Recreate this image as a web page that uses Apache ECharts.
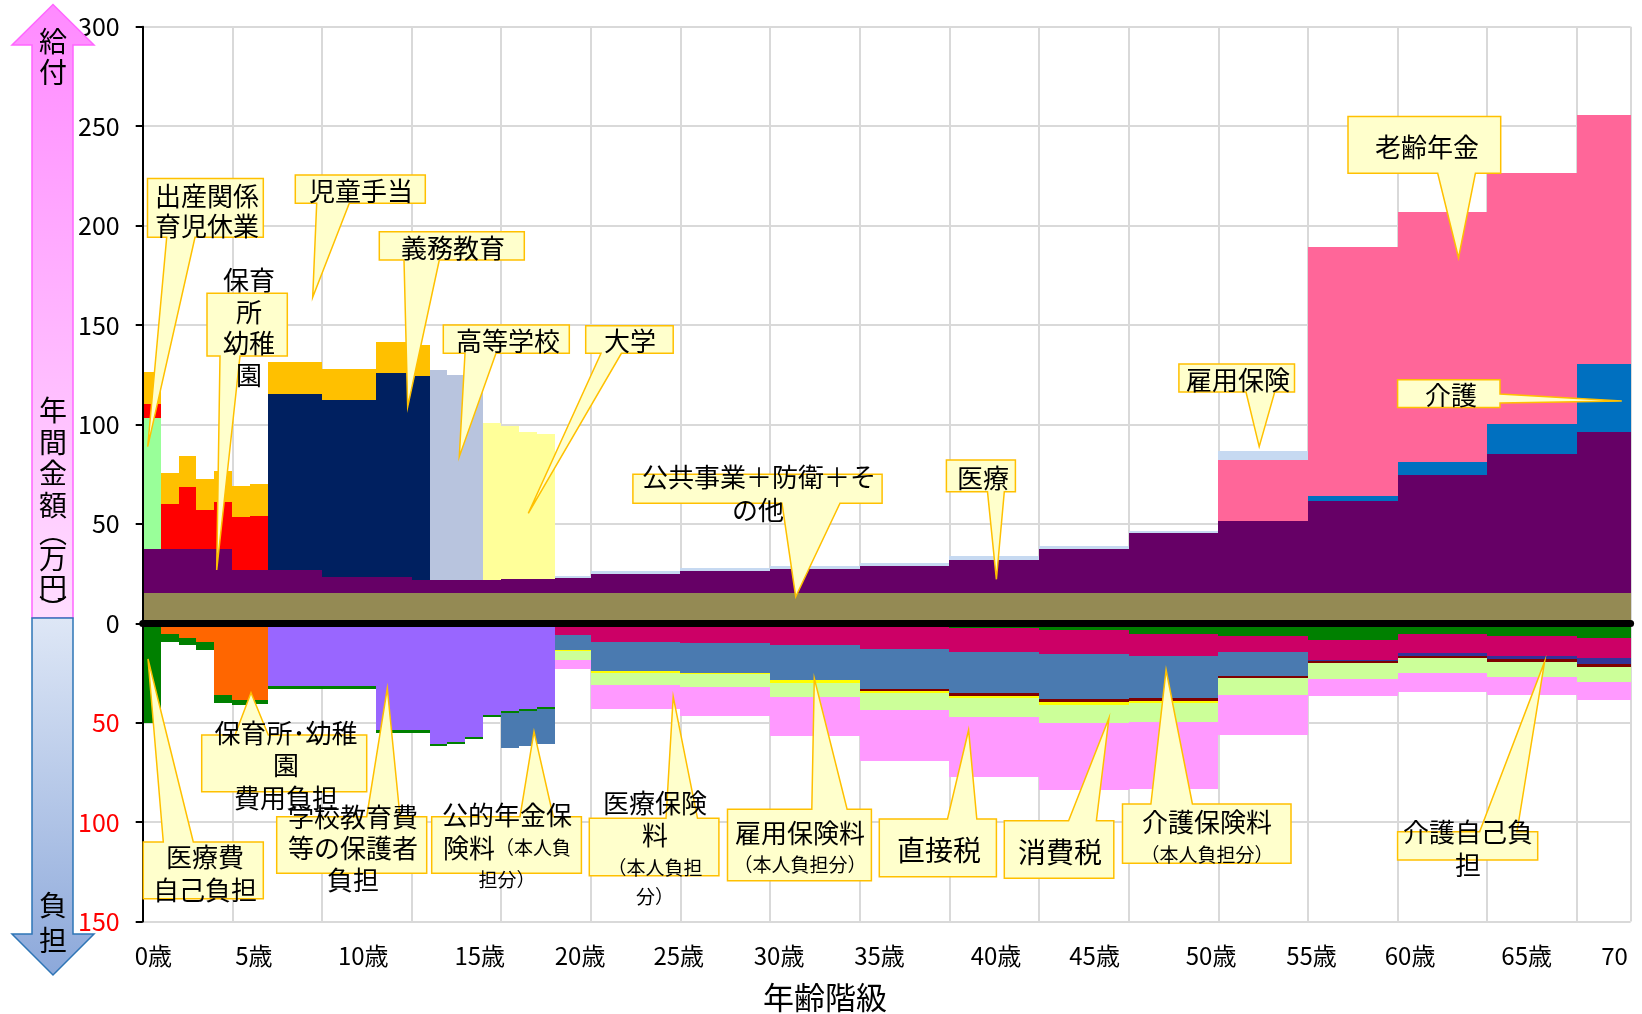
<!DOCTYPE html>
<html><head><meta charset="utf-8">
<script src="https://cdn.jsdelivr.net/npm/echarts@6/dist/echarts.min.js"></script>
<style>html,body{margin:0;padding:0;background:#fff}#c{width:1642px;height:1014px}</style>
</head><body><div id="c"></div>
<script>
const FONT = '"Noto Sans CJK JP", "Noto Sans", sans-serif';

// x-axis: one unit per step; child ages are single steps, adults are 5-step bands
const segEdges = [0,1,2,3,4,5,6,7,8,9,10,11,12,13,14,15,16,17,18,19,20,21,22,23,25,30,35,40,45,50,55,60,65,70,75,80,83];

// tick labels of the x-axis and where they sit (in axis units)
const ageTickLabels = ['0歳','5歳','10歳','15歳','20歳','25歳','30歳','35歳','40歳','45歳','50歳','55歳','60歳','65歳','70'];
const ageTickPos = [0.6, 6.2, 12.3, 18.8, 24.4, 29.9, 35.5, 41.1, 47.6, 53.1, 59.6, 65.2, 70.7, 77.2, 82.1];

// ---- benefits (positive, 万円) ----
const publicWorks = [15.4,15.4,15.4,15.4,15.4,15.4,15.4,15.4,15.4,15.4, 15.4,15.4,15.4,15.4,15.4,15.4,15.4,15.4,15.4,15.4, 15.4,15.4,15.4,15.4,15.4,15.4,15.4,15.4,15.4,15.4, 15.4,15.4,15.4,15.4,15.4,15.4];
const medical = [22.2,22.2,22.2,22.2,22.2, 11.3,11.3,11.3,11.3,11.3, 7.9,7.9,7.9,7.9,7.9, 6.6, 6.4,6.4,6.4,6.4, 7.1,7.1,7.1, 7.6,9.4,10.9,11.9,13.6,16.6,21.9,29.8,36.0,45.9,59.0,69.7,81.0];
const birth = [65.7, 0,0,0,0,0,0,0,0,0,0, 0,0,0,0,0,0,0,0,0,0, 0,0,0,0,0,0,0,0,0,0, 0,0,0,0,0];
const nursery = [7.2,22.3,31.0,19.2,23.4,26.8,27.3, 0,0,0,0,0,0,0,0,0,0, 0,0,0,0,0,0,0,0,0,0, 0,0,0,0,0,0,0,0,0];
const compulsory = [0,0,0,0,0,0,0, 88.8,88.8,88.8, 89.2,89.2,89.2, 102.6,102.6, 102.2, 0,0,0,0,0,0,0,0,0,0, 0,0,0,0,0,0,0,0,0,0];
const highSchool = [0,0,0,0,0,0,0,0,0,0, 0,0,0,0,0,0, 105.5,102.9,102.9, 0,0,0,0,0,0,0,0,0,0, 0,0,0,0,0,0,0];
const university = [0,0,0,0,0,0,0,0,0,0, 0,0,0,0,0,0,0,0,0, 79.1,76.6,73.9,72.6, 0,0,0,0,0,0,0,0,0,0, 0,0,0];
const care = [0,0,0,0,0,0,0,0,0,0, 0,0,0,0,0,0,0,0,0,0, 0,0,0,0,0,0,0,0,0,0, 0,0, 2.7,6.8,15.3,33.9];
const pension = [0,0,0,0,0,0,0,0,0,0, 0,0,0,0,0,0,0,0,0,0, 0,0,0,0,0,0,0,0,0,0, 0, 30.8,125.4,125.4,125.8,125.4];
const employment = [0,0,0,0,0,0,0,0,0,0, 0,0,0,0,0,0,0,0,0,0, 0,0,0, 1.0,1.5,1.6,1.4,1.5,1.6,1.5,1.1,4.4, 0,0,0,0];
const childAllowance = [15.9,15.7,15.7,15.6,15.8,15.6,15.9,15.8,15.8,15.8,15.6,15.6,15.6,15.4,15.4,15.6, 0,0,0,0,0,0,0,0,0,0, 0,0,0,0,0,0,0,0,0,0];

// ---- burdens (shown below zero, 万円) ----
const nurseryFee = [0,5.2,7.4,9.4,36.2,38.7,38.4, 0,0,0,0,0,0,0,0,0,0, 0,0,0,0,0,0,0,0,0,0, 0,0,0,0,0,0,0,0,0];
const schoolFee = [0,0,0,0,0,0,0, 31.7,31.7,31.7,31.7,31.7,31.7, 53.8,53.8,53.8, 60.9,59.5,57.2,45.9,44.3,42.9,42.1, 0,0,0,0,0,0,0,0,0,0, 0,0,0];
const medicalSelf = [50.1,4.2,3.7,3.8,3.7,2.2,2.3, 1.2,1.2,1.2,1.2,1.2,1.2,1.2,1.2,1.2, 1.0,1.0,1.0,1.0,1.0,1.0,1.0, 0.5,0.5,0.5,0.8,2.0,2.5,3.5,5.4,6.4,8.4,5.4,6.4,7.2];
const healthPrem = [0,0,0,0,0,0,0,0,0,0, 0,0,0,0,0,0,0,0,0,0, 0,0,0, 5.5,9.1,9.6,10.1,11.1,11.8,11.9,10.9,8.2,10.1,9.7,10.0,10.4];
const pensionPrem = [0,0,0,0,0,0,0,0,0,0, 0,0,0,0,0,0,0,0,0,0, 17.4,17.8,17.4, 7.5,14.4,14.7,17.6,20.0,20.9,22.9,21.5,11.9,0,0,0,0];
const careSelf = [0,0,0,0,0,0,0,0,0,0, 0,0,0,0,0,0,0,0,0,0, 0,0,0,0,0,0,0,0,0,0, 0,0, 0.4,1.2,1.7,2.9];
const carePrem = [0,0,0,0,0,0,0,0,0,0, 0,0,0,0,0,0,0,0,0,0, 0,0,0,0,0,0,0, 1.0,1.4,1.3,1.1,0.8,1.2,1.3,1.2,1.3];
const employPrem = [0,0,0,0,0,0,0,0,0,0, 0,0,0,0,0,0,0,0,0,0, 0,0,0, 0.3,0.8,0.7,1.4,1.1,1.2,1.5,1.0,0.4,0,0,0,0];
const consumption = [0,0,0,0,0,0,0,0,0,0, 0,0,0,0,0,0,0,0,0,0, 0,0,0, 4.7,6.2,6.4,7.0,8.4,9.2,9.2,9.6,8.4,7.9,7.6,7.5,7.6];
const directTax = [0,0,0,0,0,0,0,0,0,0, 0,0,0,0,0,0,0,0,0,0, 0,0,0, 4.7,12.1,14.7,19.8,25.7,30.2,33.6,33.9,20.1,8.7,9.2,9.3,9.2];

const posLayers = [
  {name:'公共事業＋防衛＋その他', values:publicWorks, color:'#948A54'},
  {name:'医療', values:medical, color:'#660066'},
  {name:'出産関係・育児休業', values:birth, color:'#99FF99'},
  {name:'保育所・幼稚園', values:nursery, color:'#FF0000'},
  {name:'義務教育', values:compulsory, color:'#002060'},
  {name:'高等学校', values:highSchool, color:'#B8C4DE'},
  {name:'大学', values:university, color:'#FFFF99'},
  {name:'介護', values:care, color:'#0070C0'},
  {name:'老齢年金', values:pension, color:'#FF6699'},
  {name:'雇用保険', values:employment, color:'#C6D9F1'},
  {name:'児童手当', values:childAllowance, color:'#FFC000'}
];
const negLayers = [
  {name:'保育所・幼稚園費用負担', values:nurseryFee, color:'#FF6600'},
  {name:'学校教育費等の保護者負担', values:schoolFee, color:'#9966FF'},
  {name:'医療費自己負担', values:medicalSelf, color:'#008000'},
  {name:'医療保険料（本人負担分）', values:healthPrem, color:'#CC0066'},
  {name:'公的年金保険料（本人負担分）', values:pensionPrem, color:'#4A7AB0'},
  {name:'介護自己負担', values:careSelf, color:'#333399'},
  {name:'介護保険料（本人負担分）', values:carePrem, color:'#800000'},
  {name:'雇用保険料（本人負担分）', values:employPrem, color:'#FFFF00'},
  {name:'消費税', values:consumption, color:'#CCFF99'},
  {name:'直接税', values:directTax, color:'#FF99FF'}
];

function renderItem(params, api) {
  const x0 = api.value(0), x1 = api.value(1), lo = api.value(2), hi = api.value(3);
  if (!(hi - lo > 0)) return null;
  const a = api.coord([x0, hi]), b = api.coord([x1, lo]);
  const X0 = Math.round(a[0]), X1 = Math.round(b[0]);
  const Y0 = Math.round(a[1]);
  let Y1 = Math.round(b[1]);
  if (Y1 <= Y0) Y1 = Y0 + 1;
  return {type:'rect', shape:{x:X0, y:Y0, width:X1 - X0, height:Y1 - Y0}, style:{fill:api.visual('color')}};
}

function buildLayers(layers, sign) {
  const cum = segEdges.slice(1).map(() => 0);
  return layers.map(L => {
    const data = L.values.map((v, i) => {
      const lo = cum[i];
      cum[i] += v;
      return sign > 0 ? [segEdges[i], segEdges[i + 1], lo, cum[i]]
                      : [segEdges[i], segEdges[i + 1], -cum[i], -lo];
    });
    return {type:'custom', name:L.name, renderItem, encode:{x:[0,1], y:[2,3]}, data,
            itemStyle:{color:L.color}, xAxisIndex:0, yAxisIndex:0, z:2, silent:true};
  });
}

// ---- annotations (callouts) ----
const BOXFILL = '#FFFFCC', BOXLINE = '#FFC000';
function calloutPoly(c) {
  const [x0, y0, x1, y1] = c.box, a = c.a, b = c.b, t = c.tip;
  let pts;
  if (c.edge === 'bottom') pts = [[x0,y0],[x1,y0],[x1,y1],[b,y1],t,[a,y1],[x0,y1]];
  else if (c.edge === 'top') pts = [[x0,y0],[a,y0],t,[b,y0],[x1,y0],[x1,y1],[x0,y1]];
  else pts = [[x0,y0],[x1,y0],[x1,a],t,[x1,b],[x1,y1],[x0,y1]];
  return {type:'polygon', shape:{points:pts}, style:{fill:BOXFILL, stroke:BOXLINE, lineWidth:1.5}, z:100, silent:true};
}
function txt(text, x, y, size, extra) {
  return Object.assign({type:'text', x, y, z:110, silent:true,
    style:{text, fontSize:size, fontFamily:FONT, fill:'#000', align:'center', verticalAlign:'middle'}}, extra || {});
}
function richTxt(text, x, y, rich) {
  return {type:'text', x, y, z:110, silent:true,
    style:{text, rich, fill:'#000', align:'center', verticalAlign:'middle', fontFamily:FONT}};
}
const R = {a:{fontSize:26, fontFamily:FONT, fill:'#000'}, b:{fontSize:19, fontFamily:FONT, fill:'#000'}};

const callouts = [
  {box:[147.5,178.5,263.3,237.3], edge:'bottom', a:166.7, b:195, tip:[147.7,446.7],
   lines:[['出産関係',207,196,26],['育児休業',207,226,26]]},
  {box:[207,293.3,287.3,356], edge:'bottom', a:220, b:240, tip:[216.7,570],
   lines:[['保育',249,280,26],['所',249,312,26],['幼稚',249,343.5,26],['園',249,375,26]]},
  {box:[295.3,175,425.3,203.3], edge:'bottom', a:316.7, b:349.3, tip:[312.7,297.3],
   lines:[['児童手当',361,191,26]]},
  {box:[379.3,231.7,524.3,260], edge:'bottom', a:404, b:439.3, tip:[407.7,406.7],
   lines:[['義務教育',453,248,26]]},
  {box:[443.3,325,569.3,353.3], edge:'bottom', a:465, b:496, tip:[459.3,456.7],
   lines:[['高等学校',508,341,26]]},
  {box:[585.7,325.7,673.2,353.3], edge:'bottom', a:601, b:621.4, tip:[528.3,513.3],
   lines:[['大学',630,341,26]]},
  {box:[632.9,474.3,882.1,503.3], edge:'bottom', a:782, b:840, tip:[795.7,596.7],
   lines:[['公共事業＋防衛＋そ',759,477,26],['の他',758,510,26]]},
  {box:[946.4,460,1015.4,491.7], edge:'bottom', a:987.5, b:1004.3, tip:[996.4,579.3],
   lines:[['医療',983,478,26]]},
  {box:[1178.9,364,1294.5,392], edge:'bottom', a:1246, b:1274.7, tip:[1259.2,446.6],
   lines:[['雇用保険',1238,380,26]]},
  {box:[1348,116.5,1500.7,173.3], edge:'bottom', a:1437.7, b:1475.4, tip:[1458.5,257.8],
   lines:[['老齢年金',1427,147,26]]},
  {box:[1397.6,379.7,1500,407.5], edge:'right', a:394, b:403, tip:[1621.8,400.9],
   lines:[['介護',1451,395,26]]},
  {box:[143.3,842,263.3,898.8], edge:'top', a:163.3, b:193.3, tip:[148,659],
   lines:[['医療費',205,857,26],['自己負担',205,890,26]]},
  {box:[201.7,735,366.7,791.7], edge:'top', a:235, b:268.3, tip:[251,692.7],
   lines:[['保育所･幼稚',286,733,26],['園',286,765.5,26],['費用負担',286,798,26]]},
  {box:[276.7,816.7,426.7,873.3], edge:'top', a:366.7, b:400, tip:[387.3,688.3],
   lines:[['学校教育費',353,817,26],['等の保護者',353,848.5,26],['負担',353,880,26]]},
  {box:[431.7,816.7,581.4,873.3], edge:'top', a:520, b:553.3, tip:[534,731.7],
   lines:[['公的年金保',507,815,26]], rich:[['{a|険料}{b|（本人負}',507,848],['{b|担分）}',507,880]]},
  {box:[589.3,818.3,718.9,875.7], edge:'top', a:666, b:697.5, tip:[673.2,696.7],
   lines:[['医療保険',655,802.7,26],['料',655,835,26],['（本人負担',655,868,19],['分）',655,897,19]]},
  {box:[727.5,809.3,871.4,880.7], edge:'top', a:811.8, b:847.1, tip:[814.3,678.3],
   lines:[['雇用保険料',800,833,26],['（本人負担分）',800,865,19]]},
  {box:[879.3,819,996.4,876.7], edge:'top', a:947.5, b:976.8, tip:[968.6,730],
   lines:[['直接税',939,850,28]]},
  {box:[1004.3,820.7,1113.8,878.3], edge:'top', a:1068.6, b:1096.4, tip:[1108.9,718.3],
   lines:[['消費税',1060,852,28]]},
  {box:[1122.5,804,1291,863.3], edge:'top', a:1150.9, b:1192.4, tip:[1166.1,670],
   lines:[['介護保険料',1207,822,26],['（本人負担分）',1207,855,19]]},
  {box:[1397.6,831.7,1537.7,860], edge:'top', a:1479.6, b:1517, tip:[1544.6,661.7],
   lines:[['介護自己負',1468,832,26],['担',1468,865,26]]}
];

const graphics = [];
// side arrows
graphics.push({type:'polygon', z:90, silent:true,
  shape:{points:[[53,4.5],[94,45],[73,45],[73,618],[32,618],[32,45],[12,45]]},
  style:{fill:new echarts.graphic.LinearGradient(0,0,0,1,[{offset:0,color:'#FF8AFF'},{offset:1,color:'#FFDDFF'}]),
         stroke:'#FF66FF', lineWidth:1.5}});
graphics.push({type:'polygon', z:90, silent:true,
  shape:{points:[[32,618],[73,618],[73,934],[94,934],[53,975],[12,934],[32,934]]},
  style:{fill:new echarts.graphic.LinearGradient(0,0,0,1,[{offset:0,color:'#DEE7F6'},{offset:1,color:'#8CA8DA'}]),
         stroke:'#2E75B6', lineWidth:1.5}});
[['給',41.5],['付',72.5]].forEach(([t,y]) => graphics.push(txt(t,53,y,28)));
[['年',410],['間',442],['金',473],['額',505],['︵',532],['万',558],['円',587],['︶',609]].forEach(([t,y]) => graphics.push(txt(t,53,y,28)));
[['負',905],['担',940]].forEach(([t,y]) => graphics.push(txt(t,53,y,28)));
graphics.push(txt('年齢階級', 825, 997, 31));

callouts.forEach(c => {
  graphics.push(calloutPoly(c));
  c.lines.forEach(([t,x,y,s]) => graphics.push(txt(t,x,y,s)));
  (c.rich || []).forEach(([t,x,y]) => graphics.push(richTxt(t,x,y,R)));
});

const chart = echarts.init(document.getElementById('c'), null, {renderer:'canvas'});
chart.setOption({
  animation:false,
  backgroundColor:'#fff',
  grid:{left:142.7, right:11.4, top:26.7, bottom:92.4, outerBoundsMode:'none'},
  xAxis:[
    {type:'value', min:0, max:83, interval:5, position:'bottom',
     axisLine:{show:false, onZero:false}, axisTick:{show:false},
     splitLine:{show:true, lineStyle:{color:'#D9D9D9', width:2}},
     axisLabel:{customValues:ageTickPos, fontSize:24, fontFamily:FONT, color:'#000', margin:22,
       formatter:v => { const i = ageTickPos.indexOf(v); return i >= 0 ? ageTickLabels[i] : ''; }}},
    {type:'value', min:0, max:83, position:'top', z:10,
     axisLine:{show:true, onZero:true, lineStyle:{color:'#000', width:7}},
     axisTick:{show:false}, axisLabel:{show:false}, splitLine:{show:false}}
  ],
  yAxis:[
    {type:'value', min:-150, max:300, interval:50,
     axisLine:{show:false}, axisTick:{show:false},
     splitLine:{show:true, lineStyle:{color:'#D9D9D9', width:2}},
     axisLabel:{fontSize:25, fontFamily:FONT, margin:23,
       formatter:v => String(Math.abs(v)),
       color:v => (Number(v) < 0 ? '#FF0000' : '#000')}},
    {type:'value', min:-150, max:300, interval:50, position:'left', z:10,
     axisLine:{show:true, onZero:false, lineStyle:{color:'#000', width:2}},
     axisTick:{show:true, length:7, lineStyle:{color:'#000', width:2}},
     axisLabel:{show:false}, splitLine:{show:false}}
  ],
  series:[...buildLayers(posLayers, 1), ...buildLayers(negLayers, -1)],
  graphic:{elements:graphics}
});
</script>
</body></html>
